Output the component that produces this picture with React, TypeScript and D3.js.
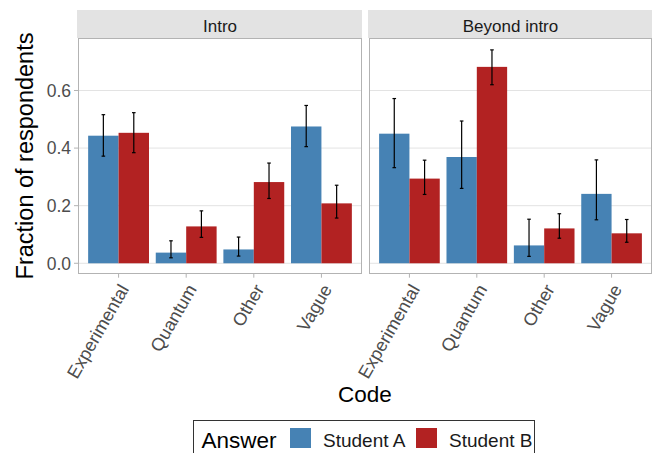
import React from "react";
import * as d3 from "d3";

const categories = ["Experimental", "Quantum", "Other", "Vague"];
const facets = ["Intro", "Beyond intro"];
const seriesNames = ["Student A", "Student B"];
const seriesColors = ["#4682B4", "#B22222"];
const yTicks = [0, 0.2, 0.4, 0.6];

const introA = [0.443, 0.037, 0.048, 0.475];
const introALo = [0.372, 0.019, 0.025, 0.405];
const introAHi = [0.516, 0.078, 0.091, 0.548];
const introB = [0.453, 0.128, 0.282, 0.208];
const introBLo = [0.384, 0.09, 0.225, 0.157];
const introBHi = [0.523, 0.182, 0.348, 0.271];

const beyondA = [0.45, 0.369, 0.062, 0.241];
const beyondALo = [0.332, 0.26, 0.024, 0.151];
const beyondAHi = [0.572, 0.494, 0.153, 0.359];
const beyondB = [0.294, 0.682, 0.121, 0.104];
const beyondBLo = [0.239, 0.62, 0.087, 0.073];
const beyondBHi = [0.358, 0.741, 0.172, 0.152];

const facetData = [
  [
    { v: introA, lo: introALo, hi: introAHi },
    { v: introB, lo: introBLo, hi: introBHi },
  ],
  [
    { v: beyondA, lo: beyondALo, hi: beyondAHi },
    { v: beyondB, lo: beyondBLo, hi: beyondBHi },
  ],
];

const FONT = "'Liberation Sans', Arial, sans-serif";

export default function App() {
  const W = 654, H = 453;
  const panelTop = 38, panelBottom = 274;
  const stripTop = 10;
  const panels = [
    { x0: 78, x1: 362 },
    { x0: 369, x1: 652 },
  ];
  const yMax = 0.745;
  const y = d3.scaleLinear().domain([-0.05 * yMax, yMax * 1.05]).range([panelBottom, panelTop]);

  return (
    <svg width={W} height={H} style={{ position: "absolute", left: 0, top: 0, background: "#fff" }} fontFamily={FONT}>
      <rect x={0} y={0} width={W} height={H} fill="#fff" />
      {panels.map((p, fi) => {
        const x = d3.scalePoint<string>().domain(categories).range([p.x0, p.x1]).padding(0.6);
        const step = x.step();
        const barW = 0.45 * step;
        return (
          <g key={fi}>
            <rect x={p.x0 - 1} y={stripTop} width={p.x1 - p.x0 + 1} height={panelTop - stripTop} fill="#e3e3e3" />
            <text x={(p.x0 + p.x1) / 2} y={31.5} textAnchor="middle" fontSize={17} fill="#1a1a1a">
              {facets[fi]}
            </text>
            <rect x={p.x0} y={panelTop} width={p.x1 - p.x0} height={panelBottom - panelTop} fill="#fff" />
            {yTicks.map((t) => (
              <line key={t} x1={p.x0} x2={p.x1} y1={y(t)} y2={y(t)} stroke="#e3e3e3" strokeWidth={1} />
            ))}
            {facetData[fi].map((s, si) =>
              categories.map((c, ci) => {
                const cx = x(c)! - 0.45 * step + si * barW;
                return (
                  <rect
                    key={`${si}-${ci}`}
                    x={cx}
                    y={y(s.v[ci])}
                    width={barW}
                    height={y(0) - y(s.v[ci])}
                    fill={seriesColors[si]}
                  />
                );
              })
            )}
            {facetData[fi].map((s, si) =>
              categories.map((c, ci) => {
                const mx = x(c)! - 0.45 * step + si * barW + barW / 2;
                return (
                  <g key={`e${si}-${ci}`} stroke="#000" strokeWidth={1.2}>
                    <line x1={mx} x2={mx} y1={y(s.lo[ci])} y2={y(s.hi[ci])} />
                    <line x1={mx - 1.8} x2={mx + 1.8} y1={y(s.lo[ci])} y2={y(s.lo[ci])} />
                    <line x1={mx - 1.8} x2={mx + 1.8} y1={y(s.hi[ci])} y2={y(s.hi[ci])} />
                  </g>
                );
              })
            )}
            <rect
              x={p.x0 + 0.5}
              y={panelTop + 0.5}
              width={p.x1 - p.x0 - 1}
              height={panelBottom - panelTop - 1}
              fill="none"
              stroke="#b3b3b3"
              strokeWidth={1}
            />
            {categories.map((c) => (
              <g key={c}>
                <line x1={x(c)} x2={x(c)} y1={panelBottom} y2={panelBottom + 3.7} stroke="#b3b3b3" strokeWidth={1} />
                <text
                  transform={`translate(${x(c)! + 11},${panelBottom + 15}) rotate(-60)`}
                  textAnchor="end"
                  fontSize={18}
                  fill="#4d4d4d"
                >
                  {c}
                </text>
              </g>
            ))}
          </g>
        );
      })}
      {yTicks.map((t) => (
        <g key={t}>
          <line x1={74} x2={78} y1={y(t)} y2={y(t)} stroke="#b3b3b3" strokeWidth={1} />
          <text x={71} y={y(t)} dy="0.36em" textAnchor="end" fontSize={17.5} fill="#4d4d4d">
            {t.toFixed(1)}
          </text>
        </g>
      ))}
      <text
        transform={`translate(33,${(panelTop + panelBottom) / 2}) rotate(-90)`}
        textAnchor="middle"
        fontSize={23.5}
        fill="#000"
      >
        Fraction of respondents
      </text>
      <text x={(78 + 652) / 2} y={401.5} textAnchor="middle" fontSize={22.5} fill="#000">
        Code
      </text>
      <rect x={193.5} y={420.5} width={341} height={44} fill="#fff" stroke="#333" strokeWidth={1} />
      <text x={201.5} y={447.5} fontSize={22.5} fill="#000">
        Answer
      </text>
      {seriesNames.map((n, i) => {
        const kx = [290, 416][i];
        return (
          <g key={n}>
            <rect x={kx} y={428} width={21} height={20} fill={seriesColors[i]} />
            <text x={kx + 33} y={447} fontSize={19} fill="#1a1a1a">
              {n}
            </text>
          </g>
        );
      })}
    </svg>
  );
}
